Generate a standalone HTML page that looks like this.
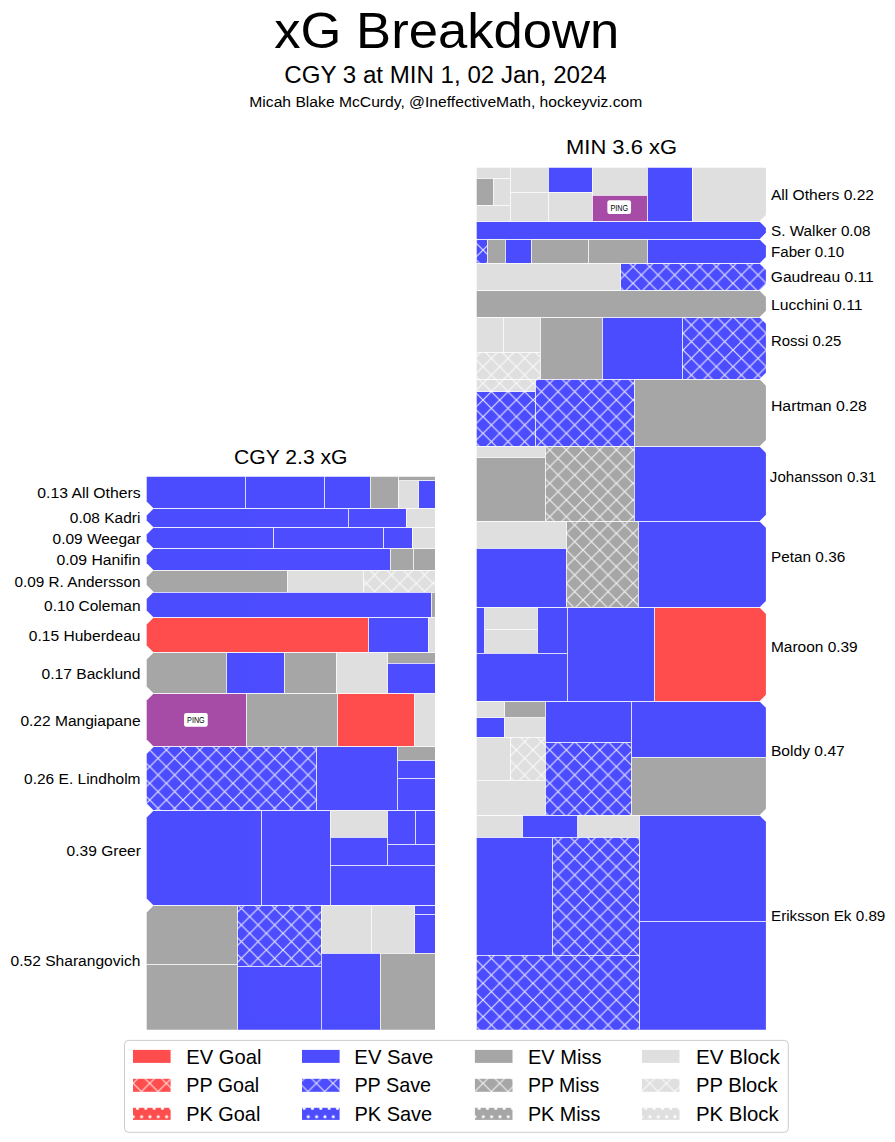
<!DOCTYPE html><html><head><meta charset="utf-8"><title>xG Breakdown</title><style>html,body{margin:0;padding:0;background:#fff;}body{width:895px;height:1142px;overflow:hidden;font-family:"Liberation Sans",sans-serif;}svg{display:block;}</style></head><body><svg width="895" height="1142" viewBox="0 0 895 1142"><defs><pattern id="hG" patternUnits="userSpaceOnUse" x="-0.3" y="0" width="16.66667" height="16.66667"><rect width="17.67" height="17.67" fill="#ff4d4d"/><path d="M-18.67,-2 L2,18.67 M-18.67,18.67 L2,-2 M-2,-2 L18.67,18.67 M-2,18.67 L18.67,-2 M14.67,-2 L35.33,18.67 M14.67,18.67 L35.33,-2" stroke="#fff" stroke-opacity="0.82" stroke-width="1.2" fill="none"/></pattern><pattern id="kG" patternUnits="userSpaceOnUse" x="308.3" y="1116.7" width="8.33333" height="16.66667"><rect width="9.33" height="17.67" fill="#ff4d4d"/><circle cx="0" cy="0" r="1.55" fill="#fff"/><circle cx="8.33" cy="0" r="1.55" fill="#fff"/><circle cx="0" cy="16.67" r="1.55" fill="#fff"/><circle cx="8.33" cy="16.67" r="1.55" fill="#fff"/><circle cx="4.17" cy="8.33" r="1.55" fill="#fff"/></pattern><pattern id="hS" patternUnits="userSpaceOnUse" x="-0.3" y="0" width="16.66667" height="16.66667"><rect width="17.67" height="17.67" fill="#4d4dff"/><path d="M-18.67,-2 L2,18.67 M-18.67,18.67 L2,-2 M-2,-2 L18.67,18.67 M-2,18.67 L18.67,-2 M14.67,-2 L35.33,18.67 M14.67,18.67 L35.33,-2" stroke="#fff" stroke-opacity="0.82" stroke-width="1.2" fill="none"/></pattern><pattern id="kS" patternUnits="userSpaceOnUse" x="308.3" y="1116.7" width="8.33333" height="16.66667"><rect width="9.33" height="17.67" fill="#4d4dff"/><circle cx="0" cy="0" r="1.55" fill="#fff"/><circle cx="8.33" cy="0" r="1.55" fill="#fff"/><circle cx="0" cy="16.67" r="1.55" fill="#fff"/><circle cx="8.33" cy="16.67" r="1.55" fill="#fff"/><circle cx="4.17" cy="8.33" r="1.55" fill="#fff"/></pattern><pattern id="hM" patternUnits="userSpaceOnUse" x="-0.3" y="0" width="16.66667" height="16.66667"><rect width="17.67" height="17.67" fill="#a6a6a6"/><path d="M-18.67,-2 L2,18.67 M-18.67,18.67 L2,-2 M-2,-2 L18.67,18.67 M-2,18.67 L18.67,-2 M14.67,-2 L35.33,18.67 M14.67,18.67 L35.33,-2" stroke="#fff" stroke-opacity="0.82" stroke-width="1.2" fill="none"/></pattern><pattern id="kM" patternUnits="userSpaceOnUse" x="308.3" y="1116.7" width="8.33333" height="16.66667"><rect width="9.33" height="17.67" fill="#a6a6a6"/><circle cx="0" cy="0" r="1.55" fill="#fff"/><circle cx="8.33" cy="0" r="1.55" fill="#fff"/><circle cx="0" cy="16.67" r="1.55" fill="#fff"/><circle cx="8.33" cy="16.67" r="1.55" fill="#fff"/><circle cx="4.17" cy="8.33" r="1.55" fill="#fff"/></pattern><pattern id="hB" patternUnits="userSpaceOnUse" x="-0.3" y="0" width="16.66667" height="16.66667"><rect width="17.67" height="17.67" fill="#dfdfdf"/><path d="M-18.67,-2 L2,18.67 M-18.67,18.67 L2,-2 M-2,-2 L18.67,18.67 M-2,18.67 L18.67,-2 M14.67,-2 L35.33,18.67 M14.67,18.67 L35.33,-2" stroke="#fff" stroke-opacity="0.82" stroke-width="1.2" fill="none"/></pattern><pattern id="kB" patternUnits="userSpaceOnUse" x="308.3" y="1116.7" width="8.33333" height="16.66667"><rect width="9.33" height="17.67" fill="#dfdfdf"/><circle cx="0" cy="0" r="1.55" fill="#fff"/><circle cx="8.33" cy="0" r="1.55" fill="#fff"/><circle cx="0" cy="16.67" r="1.55" fill="#fff"/><circle cx="8.33" cy="16.67" r="1.55" fill="#fff"/><circle cx="4.17" cy="8.33" r="1.55" fill="#fff"/></pattern><clipPath id="m0"><polygon points="476.7,167.7 765.9,167.7 765.9,214.9 759.4,221.4 476.7,221.4"/></clipPath><clipPath id="m1"><polygon points="476.7,221.4 759.4,221.4 765.9,227.9 765.9,232.8 759.4,239.3 476.7,239.3"/></clipPath><clipPath id="m2"><polygon points="476.7,239.3 759.4,239.3 765.9,245.8 765.9,256.9 759.4,263.4 476.7,263.4"/></clipPath><clipPath id="m3"><polygon points="476.7,263.4 759.4,263.4 765.9,269.9 765.9,284.1 759.4,290.6 476.7,290.6"/></clipPath><clipPath id="m4"><polygon points="476.7,290.6 759.4,290.6 765.9,297.1 765.9,310.8 759.4,317.3 476.7,317.3"/></clipPath><clipPath id="m5"><polygon points="476.7,317.3 759.4,317.3 765.9,323.8 765.9,372.7 759.4,379.2 476.7,379.2"/></clipPath><clipPath id="m6"><polygon points="476.7,379.2 759.4,379.2 765.9,385.7 765.9,439.9 759.4,446.4 476.7,446.4"/></clipPath><clipPath id="m7"><polygon points="476.7,446.4 759.4,446.4 765.9,452.9 765.9,514.8 759.4,521.3 476.7,521.3"/></clipPath><clipPath id="m8"><polygon points="476.7,521.3 759.4,521.3 765.9,527.8 765.9,600.9 759.4,607.4 476.7,607.4"/></clipPath><clipPath id="m9"><polygon points="476.7,607.4 759.4,607.4 765.9,613.9 765.9,694.8 759.4,701.3 476.7,701.3"/></clipPath><clipPath id="m10"><polygon points="476.7,701.3 759.4,701.3 765.9,707.8 765.9,808.8 759.4,815.3 476.7,815.3"/></clipPath><clipPath id="m11"><polygon points="476.7,815.3 759.4,815.3 765.9,821.8 765.9,1029.7 476.7,1029.7"/></clipPath><clipPath id="mall"><polygon points="476.7,167.7 765.9,167.7 765.9,214.9 759.4,221.4 476.7,221.4"/><polygon points="476.7,221.4 759.4,221.4 765.9,227.9 765.9,232.8 759.4,239.3 476.7,239.3"/><polygon points="476.7,239.3 759.4,239.3 765.9,245.8 765.9,256.9 759.4,263.4 476.7,263.4"/><polygon points="476.7,263.4 759.4,263.4 765.9,269.9 765.9,284.1 759.4,290.6 476.7,290.6"/><polygon points="476.7,290.6 759.4,290.6 765.9,297.1 765.9,310.8 759.4,317.3 476.7,317.3"/><polygon points="476.7,317.3 759.4,317.3 765.9,323.8 765.9,372.7 759.4,379.2 476.7,379.2"/><polygon points="476.7,379.2 759.4,379.2 765.9,385.7 765.9,439.9 759.4,446.4 476.7,446.4"/><polygon points="476.7,446.4 759.4,446.4 765.9,452.9 765.9,514.8 759.4,521.3 476.7,521.3"/><polygon points="476.7,521.3 759.4,521.3 765.9,527.8 765.9,600.9 759.4,607.4 476.7,607.4"/><polygon points="476.7,607.4 759.4,607.4 765.9,613.9 765.9,694.8 759.4,701.3 476.7,701.3"/><polygon points="476.7,701.3 759.4,701.3 765.9,707.8 765.9,808.8 759.4,815.3 476.7,815.3"/><polygon points="476.7,815.3 759.4,815.3 765.9,821.8 765.9,1029.7 476.7,1029.7"/></clipPath><clipPath id="c0"><polygon points="146.7,476.7 435,476.7 435,508.5 153.7,508.5 146.7,501.5"/></clipPath><clipPath id="c1"><polygon points="146.7,515.5 153.7,508.5 435,508.5 435,527.6 153.7,527.6 146.7,520.6"/></clipPath><clipPath id="c2"><polygon points="146.7,534.6 153.7,527.6 435,527.6 435,548.4 153.7,548.4 146.7,541.4"/></clipPath><clipPath id="c3"><polygon points="146.7,555.4 153.7,548.4 435,548.4 435,570.3 153.7,570.3 146.7,563.3"/></clipPath><clipPath id="c4"><polygon points="146.7,577.3 153.7,570.3 435,570.3 435,592.1 153.7,592.1 146.7,585.1"/></clipPath><clipPath id="c5"><polygon points="146.7,599.1 153.7,592.1 435,592.1 435,617.6 153.7,617.6 146.7,610.6"/></clipPath><clipPath id="c6"><polygon points="146.7,624.6 153.7,617.6 435,617.6 435,652.4 153.7,652.4 146.7,645.4"/></clipPath><clipPath id="c7"><polygon points="146.7,659.4 153.7,652.4 435,652.4 435,693.6 153.7,693.6 146.7,686.6"/></clipPath><clipPath id="c8"><polygon points="146.7,700.6 153.7,693.6 435,693.6 435,746.6 153.7,746.6 146.7,739.6"/></clipPath><clipPath id="c9"><polygon points="146.7,753.6 153.7,746.6 435,746.6 435,810.4 153.7,810.4 146.7,803.4"/></clipPath><clipPath id="c10"><polygon points="146.7,817.4 153.7,810.4 435,810.4 435,905.4 153.7,905.4 146.7,898.4"/></clipPath><clipPath id="c11"><polygon points="146.7,912.4 153.7,905.4 435,905.4 435,1029.7 146.7,1029.7"/></clipPath><clipPath id="call"><polygon points="146.7,476.7 435,476.7 435,508.5 153.7,508.5 146.7,501.5"/><polygon points="146.7,515.5 153.7,508.5 435,508.5 435,527.6 153.7,527.6 146.7,520.6"/><polygon points="146.7,534.6 153.7,527.6 435,527.6 435,548.4 153.7,548.4 146.7,541.4"/><polygon points="146.7,555.4 153.7,548.4 435,548.4 435,570.3 153.7,570.3 146.7,563.3"/><polygon points="146.7,577.3 153.7,570.3 435,570.3 435,592.1 153.7,592.1 146.7,585.1"/><polygon points="146.7,599.1 153.7,592.1 435,592.1 435,617.6 153.7,617.6 146.7,610.6"/><polygon points="146.7,624.6 153.7,617.6 435,617.6 435,652.4 153.7,652.4 146.7,645.4"/><polygon points="146.7,659.4 153.7,652.4 435,652.4 435,693.6 153.7,693.6 146.7,686.6"/><polygon points="146.7,700.6 153.7,693.6 435,693.6 435,746.6 153.7,746.6 146.7,739.6"/><polygon points="146.7,753.6 153.7,746.6 435,746.6 435,810.4 153.7,810.4 146.7,803.4"/><polygon points="146.7,817.4 153.7,810.4 435,810.4 435,905.4 153.7,905.4 146.7,898.4"/><polygon points="146.7,912.4 153.7,905.4 435,905.4 435,1029.7 146.7,1029.7"/></clipPath></defs><rect width="895" height="1142" fill="#fff"/><g clip-path="url(#m0)"><rect x="474.7" y="165.7" width="35.5" height="12.7" fill="#dfdfdf"/><rect x="474.7" y="178.4" width="18.9" height="26.8" fill="#a6a6a6"/><rect x="493.6" y="178.4" width="16.6" height="26.8" fill="#dfdfdf"/><rect x="474.7" y="205.2" width="35.5" height="16.2" fill="#dfdfdf"/><rect x="510.2" y="165.7" width="38.2" height="26.5" fill="#dfdfdf"/><rect x="510.2" y="192.2" width="38.2" height="29.2" fill="#dfdfdf"/><rect x="548.4" y="165.7" width="43.9" height="26.3" fill="#4d4dff"/><rect x="548.4" y="192" width="43.9" height="29.4" fill="#dfdfdf"/><rect x="592.3" y="165.7" width="55" height="29.3" fill="#dfdfdf"/><rect x="592.3" y="195" width="55" height="26.4" fill="#a64da6"/><rect x="647.3" y="165.7" width="44.8" height="55.7" fill="#4d4dff"/><rect x="692.1" y="165.7" width="75.8" height="55.7" fill="#dfdfdf"/></g><g clip-path="url(#m1)"><rect x="474.7" y="221.4" width="293.2" height="17.9" fill="#4d4dff"/></g><g clip-path="url(#m2)"><rect x="474.7" y="239.3" width="12.4" height="24.1" fill="url(#hS)"/><rect x="487.1" y="239.3" width="18.1" height="24.1" fill="#a6a6a6"/><rect x="505.2" y="239.3" width="26.1" height="24.1" fill="#4d4dff"/><rect x="531.3" y="239.3" width="57" height="24.1" fill="#a6a6a6"/><rect x="588.3" y="239.3" width="59" height="24.1" fill="#a6a6a6"/><rect x="647.3" y="239.3" width="120.6" height="24.1" fill="#4d4dff"/></g><g clip-path="url(#m3)"><rect x="474.7" y="263.4" width="146.1" height="27.2" fill="#dfdfdf"/><rect x="620.8" y="263.4" width="147.1" height="27.2" fill="url(#hS)"/></g><g clip-path="url(#m4)"><rect x="474.7" y="290.6" width="293.2" height="26.7" fill="#a6a6a6"/></g><g clip-path="url(#m5)"><rect x="474.7" y="317.3" width="28.5" height="34.9" fill="#dfdfdf"/><rect x="503.2" y="317.3" width="37.2" height="34.9" fill="#dfdfdf"/><rect x="474.7" y="352.2" width="65.7" height="27" fill="url(#hB)"/><rect x="540.4" y="317.3" width="62" height="61.9" fill="#a6a6a6"/><rect x="602.4" y="317.3" width="79.9" height="61.9" fill="#4d4dff"/><rect x="682.3" y="317.3" width="85.6" height="61.9" fill="url(#hS)"/></g><g clip-path="url(#m6)"><rect x="474.7" y="379.2" width="60.7" height="12.6" fill="url(#hB)"/><rect x="474.7" y="391.8" width="60.7" height="54.6" fill="url(#hS)"/><rect x="535.4" y="379.2" width="98.8" height="67.2" fill="url(#hS)"/><rect x="634.2" y="379.2" width="133.7" height="67.2" fill="#a6a6a6"/></g><g clip-path="url(#m7)"><rect x="474.7" y="446.4" width="70.4" height="11.1" fill="#dfdfdf"/><rect x="474.7" y="457.5" width="70.4" height="63.8" fill="#a6a6a6"/><rect x="545.1" y="446.4" width="89.1" height="74.9" fill="url(#hM)"/><rect x="634.2" y="446.4" width="133.7" height="74.9" fill="#4d4dff"/></g><g clip-path="url(#m8)"><rect x="474.7" y="521.3" width="91.7" height="27" fill="#dfdfdf"/><rect x="474.7" y="548.3" width="91.7" height="59.1" fill="#4d4dff"/><rect x="566.4" y="521.3" width="72" height="86.1" fill="url(#hM)"/><rect x="638.4" y="521.3" width="129.5" height="86.1" fill="#4d4dff"/></g><g clip-path="url(#m9)"><rect x="474.7" y="607.4" width="10" height="45.8" fill="#4d4dff"/><rect x="484.7" y="607.4" width="52.8" height="22" fill="#dfdfdf"/><rect x="484.7" y="629.4" width="52.8" height="23.8" fill="#dfdfdf"/><rect x="537.5" y="607.4" width="29.7" height="45.8" fill="#4d4dff"/><rect x="474.7" y="653.2" width="92.5" height="48.1" fill="#4d4dff"/><rect x="567.2" y="607.4" width="87.2" height="93.9" fill="#4d4dff"/><rect x="654.4" y="607.4" width="113.5" height="93.9" fill="#ff4d4d"/></g><g clip-path="url(#m10)"><rect x="474.7" y="701.3" width="30" height="16.5" fill="#dfdfdf"/><rect x="504.7" y="701.3" width="40.7" height="16.5" fill="#a6a6a6"/><rect x="474.7" y="717.8" width="29.7" height="19.2" fill="#4d4dff"/><rect x="504.4" y="717.8" width="41" height="19.2" fill="#dfdfdf"/><rect x="474.7" y="737" width="35.5" height="43.1" fill="#dfdfdf"/><rect x="510.2" y="737" width="35.2" height="43.1" fill="url(#hB)"/><rect x="474.7" y="780.1" width="70.7" height="35.2" fill="#dfdfdf"/><rect x="545.4" y="701.3" width="86" height="41.1" fill="#4d4dff"/><rect x="545.4" y="742.4" width="86" height="72.9" fill="url(#hS)"/><rect x="631.4" y="701.3" width="136.5" height="55.8" fill="#4d4dff"/><rect x="631.4" y="757.1" width="136.5" height="58.2" fill="#a6a6a6"/></g><g clip-path="url(#m11)"><rect x="474.7" y="815.3" width="47.8" height="22.1" fill="#dfdfdf"/><rect x="522.5" y="815.3" width="55.3" height="22.1" fill="#4d4dff"/><rect x="577.8" y="815.3" width="61.8" height="22.1" fill="#dfdfdf"/><rect x="474.7" y="837.4" width="77.8" height="117.7" fill="#4d4dff"/><rect x="552.5" y="837.4" width="87.1" height="117.7" fill="url(#hS)"/><rect x="474.7" y="955.1" width="164.9" height="76.6" fill="url(#hS)"/><rect x="639.6" y="815.3" width="128.3" height="106.3" fill="#4d4dff"/><rect x="639.6" y="921.6" width="128.3" height="110.1" fill="#4d4dff"/></g><g clip-path="url(#mall)"><g opacity="0.75" fill="none" stroke="#fff" stroke-width="1" shape-rendering="crispEdges"><rect x="474.7" y="165.7" width="35.5" height="12.7"/><rect x="474.7" y="178.4" width="18.9" height="26.8"/><rect x="493.6" y="178.4" width="16.6" height="26.8"/><rect x="474.7" y="205.2" width="35.5" height="16.2"/><rect x="510.2" y="165.7" width="38.2" height="26.5"/><rect x="510.2" y="192.2" width="38.2" height="29.2"/><rect x="548.4" y="165.7" width="43.9" height="26.3"/><rect x="548.4" y="192" width="43.9" height="29.4"/><rect x="592.3" y="165.7" width="55" height="29.3"/><rect x="592.3" y="195" width="55" height="26.4"/><rect x="647.3" y="165.7" width="44.8" height="55.7"/><rect x="692.1" y="165.7" width="75.8" height="55.7"/><rect x="474.7" y="221.4" width="293.2" height="17.9"/><rect x="474.7" y="239.3" width="12.4" height="24.1"/><rect x="487.1" y="239.3" width="18.1" height="24.1"/><rect x="505.2" y="239.3" width="26.1" height="24.1"/><rect x="531.3" y="239.3" width="57" height="24.1"/><rect x="588.3" y="239.3" width="59" height="24.1"/><rect x="647.3" y="239.3" width="120.6" height="24.1"/><rect x="474.7" y="263.4" width="146.1" height="27.2"/><rect x="620.8" y="263.4" width="147.1" height="27.2"/><rect x="474.7" y="290.6" width="293.2" height="26.7"/><rect x="474.7" y="317.3" width="28.5" height="34.9"/><rect x="503.2" y="317.3" width="37.2" height="34.9"/><rect x="474.7" y="352.2" width="65.7" height="27"/><rect x="540.4" y="317.3" width="62" height="61.9"/><rect x="602.4" y="317.3" width="79.9" height="61.9"/><rect x="682.3" y="317.3" width="85.6" height="61.9"/><rect x="474.7" y="379.2" width="60.7" height="12.6"/><rect x="474.7" y="391.8" width="60.7" height="54.6"/><rect x="535.4" y="379.2" width="98.8" height="67.2"/><rect x="634.2" y="379.2" width="133.7" height="67.2"/><rect x="474.7" y="446.4" width="70.4" height="11.1"/><rect x="474.7" y="457.5" width="70.4" height="63.8"/><rect x="545.1" y="446.4" width="89.1" height="74.9"/><rect x="634.2" y="446.4" width="133.7" height="74.9"/><rect x="474.7" y="521.3" width="91.7" height="27"/><rect x="474.7" y="548.3" width="91.7" height="59.1"/><rect x="566.4" y="521.3" width="72" height="86.1"/><rect x="638.4" y="521.3" width="129.5" height="86.1"/><rect x="474.7" y="607.4" width="10" height="45.8"/><rect x="484.7" y="607.4" width="52.8" height="22"/><rect x="484.7" y="629.4" width="52.8" height="23.8"/><rect x="537.5" y="607.4" width="29.7" height="45.8"/><rect x="474.7" y="653.2" width="92.5" height="48.1"/><rect x="567.2" y="607.4" width="87.2" height="93.9"/><rect x="654.4" y="607.4" width="113.5" height="93.9"/><rect x="474.7" y="701.3" width="30" height="16.5"/><rect x="504.7" y="701.3" width="40.7" height="16.5"/><rect x="474.7" y="717.8" width="29.7" height="19.2"/><rect x="504.4" y="717.8" width="41" height="19.2"/><rect x="474.7" y="737" width="35.5" height="43.1"/><rect x="510.2" y="737" width="35.2" height="43.1"/><rect x="474.7" y="780.1" width="70.7" height="35.2"/><rect x="545.4" y="701.3" width="86" height="41.1"/><rect x="545.4" y="742.4" width="86" height="72.9"/><rect x="631.4" y="701.3" width="136.5" height="55.8"/><rect x="631.4" y="757.1" width="136.5" height="58.2"/><rect x="474.7" y="815.3" width="47.8" height="22.1"/><rect x="522.5" y="815.3" width="55.3" height="22.1"/><rect x="577.8" y="815.3" width="61.8" height="22.1"/><rect x="474.7" y="837.4" width="77.8" height="117.7"/><rect x="552.5" y="837.4" width="87.1" height="117.7"/><rect x="474.7" y="955.1" width="164.9" height="76.6"/><rect x="639.6" y="815.3" width="128.3" height="106.3"/><rect x="639.6" y="921.6" width="128.3" height="110.1"/></g></g><g clip-path="url(#c0)"><rect x="144.7" y="474.7" width="100.5" height="33.8" fill="#4d4dff"/><rect x="245.2" y="474.7" width="79.2" height="33.8" fill="#4d4dff"/><rect x="324.4" y="474.7" width="45.7" height="33.8" fill="#4d4dff"/><rect x="370.1" y="474.7" width="28" height="33.8" fill="#a6a6a6"/><rect x="398.1" y="474.7" width="38.9" height="6.2" fill="#a6a6a6"/><rect x="398.1" y="480.9" width="20.6" height="27.6" fill="#dfdfdf"/><rect x="418.7" y="480.9" width="18.3" height="27.6" fill="#4d4dff"/></g><g clip-path="url(#c1)"><rect x="144.7" y="508.5" width="203.6" height="19.1" fill="#4d4dff"/><rect x="348.3" y="508.5" width="57.7" height="19.1" fill="#4d4dff"/><rect x="406" y="508.5" width="31" height="19.1" fill="#dfdfdf"/></g><g clip-path="url(#c2)"><rect x="144.7" y="527.6" width="128.7" height="20.8" fill="#4d4dff"/><rect x="273.4" y="527.6" width="110.1" height="20.8" fill="#4d4dff"/><rect x="383.5" y="527.6" width="28.6" height="20.8" fill="#4d4dff"/><rect x="412.1" y="527.6" width="24.9" height="20.8" fill="#dfdfdf"/></g><g clip-path="url(#c3)"><rect x="144.7" y="548.4" width="245.5" height="21.9" fill="#4d4dff"/><rect x="390.2" y="548.4" width="23" height="21.9" fill="#a6a6a6"/><rect x="413.2" y="548.4" width="23.8" height="21.9" fill="#a6a6a6"/></g><g clip-path="url(#c4)"><rect x="144.7" y="570.3" width="142.4" height="21.8" fill="#a6a6a6"/><rect x="287.1" y="570.3" width="76.3" height="21.8" fill="#dfdfdf"/><rect x="363.4" y="570.3" width="73.6" height="21.8" fill="url(#hB)"/></g><g clip-path="url(#c5)"><rect x="144.7" y="592.1" width="286.6" height="25.5" fill="#4d4dff"/><rect x="431.3" y="592.1" width="5.7" height="25.5" fill="#a6a6a6"/></g><g clip-path="url(#c6)"><rect x="144.7" y="617.6" width="223.6" height="34.8" fill="#ff4d4d"/><rect x="368.3" y="617.6" width="60" height="34.8" fill="#4d4dff"/><rect x="428.3" y="617.6" width="8.7" height="34.8" fill="#dfdfdf"/></g><g clip-path="url(#c7)"><rect x="144.7" y="652.4" width="81.6" height="41.2" fill="#a6a6a6"/><rect x="226.3" y="652.4" width="57.8" height="41.2" fill="#4d4dff"/><rect x="284.1" y="652.4" width="52" height="41.2" fill="#a6a6a6"/><rect x="336.1" y="652.4" width="51.6" height="41.2" fill="#dfdfdf"/><rect x="387.7" y="652.4" width="49.3" height="10.7" fill="#a6a6a6"/><rect x="387.7" y="663.1" width="49.3" height="30.5" fill="#4d4dff"/></g><g clip-path="url(#c8)"><rect x="144.7" y="693.6" width="101.4" height="53" fill="#a64da6"/><rect x="246.1" y="693.6" width="91.3" height="53" fill="#a6a6a6"/><rect x="337.4" y="693.6" width="77" height="53" fill="#ff4d4d"/><rect x="414.4" y="693.6" width="22.6" height="53" fill="#dfdfdf"/></g><g clip-path="url(#c9)"><rect x="144.7" y="746.6" width="171.8" height="63.8" fill="url(#hS)"/><rect x="316.5" y="746.6" width="80.8" height="63.8" fill="#4d4dff"/><rect x="397.3" y="746.6" width="39.7" height="13.6" fill="#a6a6a6"/><rect x="397.3" y="760.2" width="39.7" height="18.1" fill="#4d4dff"/><rect x="397.3" y="778.3" width="39.7" height="32.1" fill="#4d4dff"/></g><g clip-path="url(#c10)"><rect x="144.7" y="810.4" width="116.8" height="95" fill="#4d4dff"/><rect x="261.5" y="810.4" width="68.7" height="95" fill="#4d4dff"/><rect x="330.2" y="810.4" width="57.3" height="26.8" fill="#dfdfdf"/><rect x="330.2" y="837.2" width="57.3" height="28.2" fill="#4d4dff"/><rect x="387.5" y="810.4" width="27.9" height="34" fill="#4d4dff"/><rect x="415.4" y="810.4" width="21.6" height="34" fill="#4d4dff"/><rect x="387.5" y="844.4" width="49.5" height="21" fill="#4d4dff"/><rect x="330.2" y="865.4" width="106.8" height="40" fill="#4d4dff"/></g><g clip-path="url(#c11)"><rect x="144.7" y="905.4" width="92.8" height="59.2" fill="#a6a6a6"/><rect x="144.7" y="964.6" width="92.8" height="67.1" fill="#a6a6a6"/><rect x="237.5" y="905.4" width="83.5" height="60.9" fill="url(#hS)"/><rect x="237.5" y="966.3" width="83.5" height="65.4" fill="#4d4dff"/><rect x="321" y="905.4" width="50.6" height="47.8" fill="#dfdfdf"/><rect x="371.6" y="905.4" width="43.3" height="47.8" fill="#dfdfdf"/><rect x="414.9" y="905.4" width="22.1" height="9" fill="#4d4dff"/><rect x="414.9" y="914.4" width="22.1" height="38.8" fill="#4d4dff"/><rect x="321" y="953.2" width="59.2" height="78.5" fill="#4d4dff"/><rect x="380.2" y="953.2" width="56.8" height="78.5" fill="#a6a6a6"/></g><g clip-path="url(#call)"><g opacity="0.75" fill="none" stroke="#fff" stroke-width="1" shape-rendering="crispEdges"><rect x="144.7" y="474.7" width="100.5" height="33.8"/><rect x="245.2" y="474.7" width="79.2" height="33.8"/><rect x="324.4" y="474.7" width="45.7" height="33.8"/><rect x="370.1" y="474.7" width="28" height="33.8"/><rect x="398.1" y="474.7" width="38.9" height="6.2"/><rect x="398.1" y="480.9" width="20.6" height="27.6"/><rect x="418.7" y="480.9" width="18.3" height="27.6"/><rect x="144.7" y="508.5" width="203.6" height="19.1"/><rect x="348.3" y="508.5" width="57.7" height="19.1"/><rect x="406" y="508.5" width="31" height="19.1"/><rect x="144.7" y="527.6" width="128.7" height="20.8"/><rect x="273.4" y="527.6" width="110.1" height="20.8"/><rect x="383.5" y="527.6" width="28.6" height="20.8"/><rect x="412.1" y="527.6" width="24.9" height="20.8"/><rect x="144.7" y="548.4" width="245.5" height="21.9"/><rect x="390.2" y="548.4" width="23" height="21.9"/><rect x="413.2" y="548.4" width="23.8" height="21.9"/><rect x="144.7" y="570.3" width="142.4" height="21.8"/><rect x="287.1" y="570.3" width="76.3" height="21.8"/><rect x="363.4" y="570.3" width="73.6" height="21.8"/><rect x="144.7" y="592.1" width="286.6" height="25.5"/><rect x="431.3" y="592.1" width="5.7" height="25.5"/><rect x="144.7" y="617.6" width="223.6" height="34.8"/><rect x="368.3" y="617.6" width="60" height="34.8"/><rect x="428.3" y="617.6" width="8.7" height="34.8"/><rect x="144.7" y="652.4" width="81.6" height="41.2"/><rect x="226.3" y="652.4" width="57.8" height="41.2"/><rect x="284.1" y="652.4" width="52" height="41.2"/><rect x="336.1" y="652.4" width="51.6" height="41.2"/><rect x="387.7" y="652.4" width="49.3" height="10.7"/><rect x="387.7" y="663.1" width="49.3" height="30.5"/><rect x="144.7" y="693.6" width="101.4" height="53"/><rect x="246.1" y="693.6" width="91.3" height="53"/><rect x="337.4" y="693.6" width="77" height="53"/><rect x="414.4" y="693.6" width="22.6" height="53"/><rect x="144.7" y="746.6" width="171.8" height="63.8"/><rect x="316.5" y="746.6" width="80.8" height="63.8"/><rect x="397.3" y="746.6" width="39.7" height="13.6"/><rect x="397.3" y="760.2" width="39.7" height="18.1"/><rect x="397.3" y="778.3" width="39.7" height="32.1"/><rect x="144.7" y="810.4" width="116.8" height="95"/><rect x="261.5" y="810.4" width="68.7" height="95"/><rect x="330.2" y="810.4" width="57.3" height="26.8"/><rect x="330.2" y="837.2" width="57.3" height="28.2"/><rect x="387.5" y="810.4" width="27.9" height="34"/><rect x="415.4" y="810.4" width="21.6" height="34"/><rect x="387.5" y="844.4" width="49.5" height="21"/><rect x="330.2" y="865.4" width="106.8" height="40"/><rect x="144.7" y="905.4" width="92.8" height="59.2"/><rect x="144.7" y="964.6" width="92.8" height="67.1"/><rect x="237.5" y="905.4" width="83.5" height="60.9"/><rect x="237.5" y="966.3" width="83.5" height="65.4"/><rect x="321" y="905.4" width="50.6" height="47.8"/><rect x="371.6" y="905.4" width="43.3" height="47.8"/><rect x="414.9" y="905.4" width="22.1" height="9"/><rect x="414.9" y="914.4" width="22.1" height="38.8"/><rect x="321" y="953.2" width="59.2" height="78.5"/><rect x="380.2" y="953.2" width="56.8" height="78.5"/></g></g><rect x="607.35" y="200.2" width="23.7" height="13.8" rx="2.2" fill="#fff"/><text x="619.2" y="210.5" font-size="9.4" text-anchor="middle" textLength="17.6" lengthAdjust="spacingAndGlyphs">PING</text><rect x="184.05" y="712.95" width="23.7" height="13.8" rx="2.2" fill="#fff"/><text x="195.9" y="723.25" font-size="9.4" text-anchor="middle" textLength="17.6" lengthAdjust="spacingAndGlyphs">PING</text><rect x="124.5" y="1040.4" width="663.8" height="91.9" rx="4" fill="#fff" stroke="#ccc" stroke-width="1"/><rect x="133" y="1049.9" width="37.6" height="13" fill="#ff4d4d"/><rect x="133" y="1078.8" width="37.6" height="13" fill="url(#hG)"/><rect x="133" y="1107.8" width="37.6" height="12.1" fill="url(#kG)"/><rect x="302" y="1049.9" width="37.6" height="13" fill="#4d4dff"/><rect x="302" y="1078.8" width="37.6" height="13" fill="url(#hS)"/><rect x="302" y="1107.8" width="37.6" height="12.1" fill="url(#kS)"/><rect x="474.9" y="1049.9" width="37.6" height="13" fill="#a6a6a6"/><rect x="474.9" y="1078.8" width="37.6" height="13" fill="url(#hM)"/><rect x="474.9" y="1107.8" width="37.6" height="12.1" fill="url(#kM)"/><rect x="641.9" y="1049.9" width="37.6" height="13" fill="#dfdfdf"/><rect x="641.9" y="1078.8" width="37.6" height="13" fill="url(#hB)"/><rect x="641.9" y="1107.8" width="37.6" height="12.1" fill="url(#kB)"/><g fill="#000" font-family="'Liberation Sans', sans-serif"><text x="274.27" y="48.3" font-size="49.8" textLength="344.93" lengthAdjust="spacingAndGlyphs">xG Breakdown</text><text x="284.36" y="82.6" font-size="23.42" textLength="322.41" lengthAdjust="spacingAndGlyphs">CGY 3 at MIN 1, 02 Jan, 2024</text><text x="249.32" y="106.7" font-size="14.65" textLength="392.98" lengthAdjust="spacingAndGlyphs">Micah Blake McCurdy, @IneffectiveMath, hockeyviz.com</text><text x="566.05" y="153.8" font-size="20" textLength="110.93" lengthAdjust="spacingAndGlyphs">MIN 3.6 xG</text><text x="234.04" y="463.8" font-size="20" textLength="113.49" lengthAdjust="spacingAndGlyphs">CGY 2.3 xG</text><text x="770.9" y="199.6" font-size="13.89" textLength="103.13" lengthAdjust="spacingAndGlyphs">All Others 0.22</text><text x="771.04" y="235.8" font-size="13.89" textLength="99.57" lengthAdjust="spacingAndGlyphs">S. Walker 0.08</text><text x="771" y="256.9" font-size="13.89" textLength="73.18" lengthAdjust="spacingAndGlyphs">Faber 0.10</text><text x="770.81" y="281.7" font-size="13.89" textLength="102.98" lengthAdjust="spacingAndGlyphs">Gaudreau 0.11</text><text x="770.95" y="309.7" font-size="13.89" textLength="91.61" lengthAdjust="spacingAndGlyphs">Lucchini 0.11</text><text x="771.02" y="345.9" font-size="13.89" textLength="70.4" lengthAdjust="spacingAndGlyphs">Rossi 0.25</text><text x="770.95" y="411.1" font-size="13.89" textLength="95.96" lengthAdjust="spacingAndGlyphs">Hartman 0.28</text><text x="769.88" y="481.7" font-size="13.89" textLength="106.33" lengthAdjust="spacingAndGlyphs">Johansson 0.31</text><text x="770.99" y="561.7" font-size="13.89" textLength="74.23" lengthAdjust="spacingAndGlyphs">Petan 0.36</text><text x="770.98" y="652.1" font-size="13.89" textLength="86.74" lengthAdjust="spacingAndGlyphs">Maroon 0.39</text><text x="770.96" y="755.7" font-size="13.89" textLength="73.81" lengthAdjust="spacingAndGlyphs">Boldy 0.47</text><text x="770.99" y="920.9" font-size="13.89" textLength="114.37" lengthAdjust="spacingAndGlyphs">Eriksson Ek 0.89</text><text x="37.25" y="497.8" font-size="13.89" textLength="103.31" lengthAdjust="spacingAndGlyphs">0.13 All Others</text><text x="69.84" y="523.3" font-size="13.89" textLength="70.52" lengthAdjust="spacingAndGlyphs">0.08 Kadri</text><text x="52.54" y="543.6" font-size="13.89" textLength="88.32" lengthAdjust="spacingAndGlyphs">0.09 Weegar</text><text x="56.41" y="564.9" font-size="13.89" textLength="84.07" lengthAdjust="spacingAndGlyphs">0.09 Hanifin</text><text x="14.42" y="586.6" font-size="13.89" textLength="126.12" lengthAdjust="spacingAndGlyphs">0.09 R. Andersson</text><text x="44.13" y="610.6" font-size="13.89" textLength="96.41" lengthAdjust="spacingAndGlyphs">0.10 Coleman</text><text x="28.81" y="640.7" font-size="13.89" textLength="111.67" lengthAdjust="spacingAndGlyphs">0.15 Huberdeau</text><text x="41.57" y="678.7" font-size="13.89" textLength="98.87" lengthAdjust="spacingAndGlyphs">0.17 Backlund</text><text x="20.4" y="726.1" font-size="13.89" textLength="120.17" lengthAdjust="spacingAndGlyphs">0.22 Mangiapane</text><text x="24.05" y="783.6" font-size="13.89" textLength="116.49" lengthAdjust="spacingAndGlyphs">0.26 E. Lindholm</text><text x="66.62" y="855.6" font-size="13.89" textLength="74.34" lengthAdjust="spacingAndGlyphs">0.39 Greer</text><text x="10.56" y="965.8" font-size="13.89" textLength="129.9" lengthAdjust="spacingAndGlyphs">0.52 Sharangovich</text><text x="186.23" y="1064" font-size="20.02" textLength="75.21" lengthAdjust="spacingAndGlyphs">EV Goal</text><text x="186.27" y="1092" font-size="20.02" textLength="72.98" lengthAdjust="spacingAndGlyphs">PP Goal</text><text x="186.26" y="1120.9" font-size="20.02" textLength="74.07" lengthAdjust="spacingAndGlyphs">PK Goal</text><text x="354.38" y="1064" font-size="20.02" textLength="78.96" lengthAdjust="spacingAndGlyphs">EV Save</text><text x="354.41" y="1092" font-size="20.02" textLength="76.74" lengthAdjust="spacingAndGlyphs">PP Save</text><text x="354.4" y="1120.9" font-size="20.02" textLength="77.83" lengthAdjust="spacingAndGlyphs">PK Save</text><text x="527.9" y="1064" font-size="20.02" textLength="73.55" lengthAdjust="spacingAndGlyphs">EV Miss</text><text x="527.94" y="1092" font-size="20.02" textLength="71.33" lengthAdjust="spacingAndGlyphs">PP Miss</text><text x="527.92" y="1120.9" font-size="20.02" textLength="72.41" lengthAdjust="spacingAndGlyphs">PK Miss</text><text x="695.95" y="1064" font-size="20.02" textLength="83.8" lengthAdjust="spacingAndGlyphs">EV Block</text><text x="695.98" y="1092" font-size="20.02" textLength="81.6" lengthAdjust="spacingAndGlyphs">PP Block</text><text x="695.97" y="1120.9" font-size="20.02" textLength="82.68" lengthAdjust="spacingAndGlyphs">PK Block</text></g></svg></body></html>
